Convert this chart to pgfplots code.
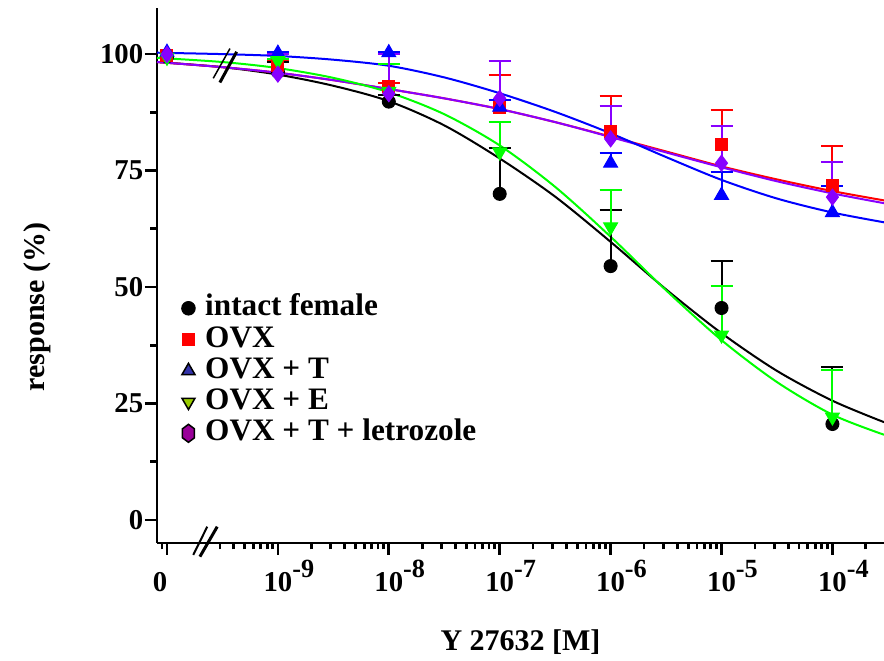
\documentclass[border=0pt]{standalone}
\usepackage{fontspec}
\setmainfont{Liberation Serif}
\usepackage{pgfplots}
\usepackage{pgfplotstable}
\pgfplotsset{compat=1.18}
\definecolor{cred}{RGB}{255,0,0}
\definecolor{cblue}{RGB}{0,0,255}
\definecolor{cgreen}{RGB}{0,255,0}
\definecolor{cpurple}{RGB}{136,0,255}
\definecolor{lnavy}{RGB}{51,51,170}
\definecolor{lyg}{RGB}{153,204,0}
\definecolor{lpurple}{RGB}{153,0,153}
\newcommand{\sxp}[1]{10\makebox[0pt][l]{\raisebox{5.6pt}{\fontsize{10.5}{11}\selectfont -#1}}}
\pgfdeclareplotmark{hexagon}{%
  \pgfpathmoveto{\pgfqpoint{0pt}{1.5\pgfplotmarksize}}%
  \pgfpathlineto{\pgfqpoint{\pgfplotmarksize}{0.75\pgfplotmarksize}}%
  \pgfpathlineto{\pgfqpoint{\pgfplotmarksize}{-0.75\pgfplotmarksize}}%
  \pgfpathlineto{\pgfqpoint{0pt}{-1.5\pgfplotmarksize}}%
  \pgfpathlineto{\pgfqpoint{-\pgfplotmarksize}{-0.75\pgfplotmarksize}}%
  \pgfpathlineto{\pgfqpoint{-\pgfplotmarksize}{0.75\pgfplotmarksize}}%
  \pgfpathclose\pgfusepathqfillstroke}

% x = log10 of concentration (0 drawn at -10)
\pgfplotstableread{
x y e
-9 96.2 2.1
-8 89.8 1.5
-7 70.0 9.8
-6 54.5 12.0
-5 45.5 10.1
-4 20.6 12.2
}\intact
\pgfplotstableread{
x y e
-9 97.5 1.2
-8 93.0 0.8
-7 88.6 6.9
-6 83.3 7.7
-5 80.5 7.5
-4 71.9 8.4
}\ovx
\pgfplotstableread{
x y e
-9 100.2 0.2
-8 100.3 0.2
-7 88.6 1.5
-6 76.6 2.2
-5 69.7 5.0
-4 66.0 5.7
}\ovxt
\pgfplotstableread{
x y e
-9 98.6 0.3
-8 92.0 5.9
-7 79.0 6.4
-6 62.9 7.9
-5 39.7 10.5
-4 22.1 10.1
}\ovxe
\pgfplotstableread{
x y e
-9 95.7 4.3
-8 91.5 8.5
-7 90.5 8.0
-6 81.8 7.0
-5 76.6 7.9
-4 69.3 7.5
}\letro

\begin{document}
\begin{tikzpicture}
\path[use as bounding box] (-62.8pt,-47.2pt) rectangle (290.8pt,217.2pt);
\begin{axis}[
  at={(0pt,0pt)}, anchor=south west,
  scale only axis, width=290.8pt, height=214pt,
  xmin=-10.09, xmax=-3.535, ymin=-4.94, ymax=109.9,
  axis x line=bottom, axis y line=left,
  axis line style={-, line width=1.1pt},
  clip=false,
  tick align=outside,
  major tick length=4.8pt, minor tick length=2.6pt,
  tick style={line width=1.1pt, black},
  xtick={-10,-9,-8,-7,-6,-5,-4},
  xticklabels={{\hspace*{-5.6pt}0},\sxp{9},\sxp{8},\sxp{7},\sxp{6},\sxp{5},\sxp{4}},
  minor xtick={-10.046,-9.523,-9.398,-9.301,-9.222,-9.155,-9.097,-9.046,
    -8.699,-8.523,-8.398,-8.301,-8.222,-8.155,-8.097,-8.046,
    -7.699,-7.523,-7.398,-7.301,-7.222,-7.155,-7.097,-7.046,
    -6.699,-6.523,-6.398,-6.301,-6.222,-6.155,-6.097,-6.046,
    -5.699,-5.523,-5.398,-5.301,-5.222,-5.155,-5.097,-5.046,
    -4.699,-4.523,-4.398,-4.301,-4.222,-4.155,-4.097,-4.046,-3.699},
  ytick={0,25,50,75,100},
  minor ytick={12.5,37.5,62.5,87.5},
  /pgf/number format/assume math mode=true,
  ticklabel style={font=\bfseries\fontsize{11.5}{13}\selectfont},
  xticklabel style={text height=11pt, text depth=0pt},
  yticklabel style={xshift=2.8pt},
  xlabel={Y 27632 [M]},
  ylabel={response (\%)},
  every axis x label/.style={at={(axis description cs:0.5,-0.185)}, anchor=center, font=\bfseries\fontsize{12}{14}\selectfont},
  every axis y label/.style={at={(axis description cs:-0.164,0.441)}, anchor=center, rotate=90, font=\bfseries\fontsize{12}{14}\selectfont},
  legend style={draw=none, fill=none, at={(0.023,0.477)}, anchor=north west,
    font=\bfseries\fontsize{12.5}{14}\selectfont, row sep=0.5pt, column sep=3.5pt,
    nodes={inner sep=0.5pt, text height=8.5pt, text depth=2.5pt}},
  legend cell align=left,
  legend image code/.code={\draw[#1] plot coordinates {(0pt,0pt)};},
  error bars/error mark=|,
]
% fitted curves
\addplot[black, line width=0.8pt, smooth, forget plot] coordinates {(-10.09,98.3) (-9.5,97.2) (-9,95.6) (-8.5,93.2) (-8,89.9) (-7.5,84.7) (-7,77.6) (-6.5,69.4) (-6,59.7) (-5.5,49.5) (-5,40.1) (-4.5,32.0) (-4,25.6) (-3.535,21.0)};
\addplot[cred, line width=0.8pt, smooth, forget plot] coordinates {(-10.09,98.3) (-9.5,97.2) (-9,96.0) (-8.5,94.4) (-8,92.5) (-7.5,90.5) (-7,88.2) (-6.5,85.4) (-6,82.3) (-5.5,79.1) (-5,75.9) (-4.5,73.1) (-4,70.6) (-3.535,68.6)};
\addplot[cpurple, line width=0.8pt, smooth, forget plot] coordinates {(-10.09,98.3) (-9.5,97.2) (-9,96.0) (-8.5,94.4) (-8,92.5) (-7.5,90.5) (-7,88.2) (-6.5,85.4) (-6,82.2) (-5.5,78.9) (-5,75.7) (-4.5,72.7) (-4,70.1) (-3.535,68.0)};
\addplot[cblue, line width=0.8pt, smooth, forget plot] coordinates {(-10.09,100.3) (-9.5,100.0) (-9,99.6) (-8.5,98.8) (-8,97.5) (-7.5,95.0) (-7,91.6) (-6.5,87.6) (-6,83.0) (-5.5,77.9) (-5,73.0) (-4.5,69.0) (-4,66.0) (-3.535,63.9)};
\addplot[cgreen, line width=0.8pt, smooth, forget plot] coordinates {(-10.09,99.2) (-9.5,98.3) (-9,97.0) (-8.5,94.9) (-8,91.8) (-7.5,87.1) (-7,80.4) (-6.5,71.5) (-6,60.8) (-5.5,49.3) (-5,38.6) (-4.5,29.6) (-4,22.6) (-3.535,18.3)};
% data with error bars
\addplot[only marks, mark=*, mark size=2.6pt, black, forget plot,
  error bars/.cd, y dir=plus, y explicit, error bar style={line width=0.8pt, black},
  error mark options={mark size=4.4pt, line width=0.8pt, black}]
  table[x=x, y=y, y error=e] {\intact};
\addplot[only marks, mark=square*, mark size=2.4pt, cred, forget plot,
  error bars/.cd, y dir=plus, y explicit, error bar style={line width=0.8pt, cred},
  error mark options={mark size=4.4pt, line width=0.8pt, cred}]
  table[x=x, y=y, y error=e] {\ovx};
\addplot[only marks, mark=triangle*, mark size=3.2pt, cblue, forget plot,
  error bars/.cd, y dir=plus, y explicit, error bar style={line width=0.8pt, cblue},
  error mark options={mark size=4.4pt, line width=0.8pt, cblue}]
  table[x=x, y=y, y error=e] {\ovxt};
\addplot[only marks, mark=triangle*, mark size=3.2pt, mark options={rotate=180}, cgreen, forget plot,
  error bars/.cd, y dir=plus, y explicit, error bar style={line width=0.8pt, cgreen},
  error mark options={mark size=4.4pt, line width=0.8pt, cgreen}]
  table[x=x, y=y, y error=e] {\ovxe};
\addplot[only marks, mark=diamond*, mark size=3.2pt, cpurple, forget plot,
  error bars/.cd, y dir=plus, y explicit, error bar style={line width=0.8pt, cpurple},
  error mark options={mark size=4.4pt, line width=0.8pt, cpurple}]
  table[x=x, y=y, y error=e] {\letro};
% control (0 M) points
\addplot[only marks, mark=*, mark size=2.6pt, black, forget plot] coordinates {(-10,99.5)};
\addplot[only marks, mark=square*, mark size=2.4pt, cred, forget plot] coordinates {(-10,99.8)};
\addplot[only marks, mark=triangle*, mark size=3.2pt, cblue, forget plot] coordinates {(-10,100.4)};
\addplot[only marks, mark=triangle*, mark size=3.2pt, mark options={rotate=180}, cgreen, forget plot] coordinates {(-10,99.3)};
\addplot[only marks, mark=diamond*, mark size=3.2pt, cpurple, forget plot] coordinates {(-10,99.9)};
% axis breaks
\draw[line width=0.6pt] (axis cs:-9.583,94.8) -- (axis cs:-9.432,101.2);
\draw[line width=1.2pt] (axis cs:-9.523,93.9) -- (axis cs:-9.372,100.5);
\draw[line width=0.8pt] (axis cs:-9.763,-7.51) -- (axis cs:-9.637,-1.44);
\draw[line width=1.2pt] (axis cs:-9.703,-7.87) -- (axis cs:-9.547,-1.44);
% legend
\addlegendimage{only marks, mark=*, mark size=2.7pt, mark options={draw=black, fill=black}}
\addlegendentry{intact female}
\addlegendimage{only marks, mark=square*, mark size=2.5pt, mark options={draw=cred, fill=cred}}
\addlegendentry{OVX}
\addlegendimage{only marks, mark=triangle*, mark size=3pt, mark options={draw=black, fill=lnavy, line width=0.6pt}}
\addlegendentry{OVX + T}
\addlegendimage{only marks, mark=triangle*, mark size=3pt, mark options={rotate=180, draw=black, fill=lyg, line width=0.6pt}}
\addlegendentry{OVX + E}
\addlegendimage{only marks, mark=hexagon, mark size=2.4pt, mark options={draw=black, fill=lpurple, line width=0.6pt}}
\addlegendentry{OVX + T + letrozole}
\end{axis}
\end{tikzpicture}
\end{document}
